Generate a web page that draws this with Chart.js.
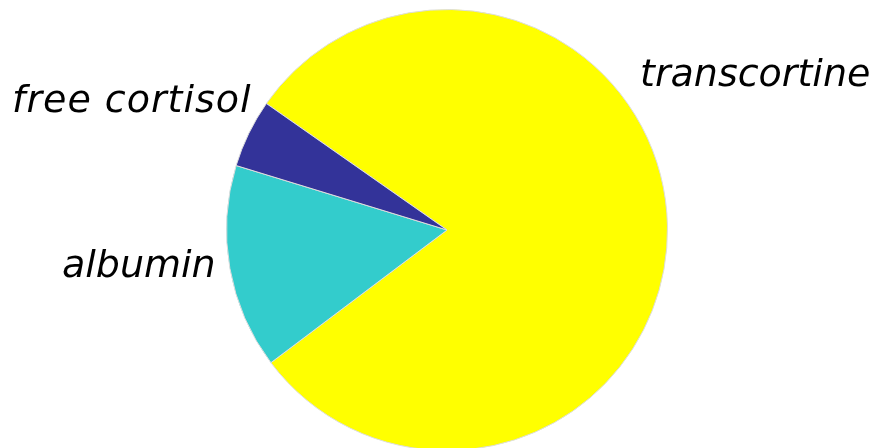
<!DOCTYPE html>
<html>
<head>
<meta charset="utf-8">
<script src="https://cdn.jsdelivr.net/npm/chart.js@4"></script>
<style>
    html, body { margin: 0; padding: 0; overflow: hidden; background: #ffffff; }
    #wrap { width: 877px; height: 451px; }
</style>
</head>
<body>
<div id="wrap"><canvas id="pieChart" width="877" height="451"></canvas></div>
<script>
// Cortisol binding in plasma (percent)
const categories = ["transcortine", "albumin", "free cortisol"];
const shares = [80, 15, 5];
const sliceColors = ["#ffff00", "#33cccc", "#333399"];

// Label positions next to the slices (left x, baseline y)
const labelSpots = {
    "transcortine": [640, 86],
    "albumin": [62, 277],
    "free cortisol": [12, 112]
};

// Draws the italic category names beside the pie
const sideLabels = {
    id: "sideLabels",
    afterDraw(chart) {
        const ctx = chart.ctx;
        ctx.save();
        ctx.font = "oblique 38px 'DejaVu Sans', sans-serif";
        ctx.fillStyle = "#000000";
        ctx.textBaseline = "alphabetic";
        ctx.textAlign = "left";
        categories.forEach(name => {
            const spot = labelSpots[name];
            // the two-word label sits a bit looser in the original
            ctx.letterSpacing = name === "free cortisol" ? "1px" : "0px";
            ctx.fillText(name, spot[0], spot[1]);
        });
        ctx.restore();
    }
};

new Chart(document.getElementById("pieChart").getContext("2d"), {
    type: "pie",
    data: {
        labels: categories,
        datasets: [{
            data: shares,
            backgroundColor: sliceColors,
            borderColor: "#dddddd",
            borderWidth: 1
        }]
    },
    options: {
        responsive: false,
        animation: false,
        rotation: -55,
        layout: { padding: { top: 9, bottom: 0, left: 17, right: 0 } },
        plugins: {
            legend: { display: false },
            tooltip: { enabled: false }
        }
    },
    plugins: [sideLabels]
});
</script>
</body>
</html>
